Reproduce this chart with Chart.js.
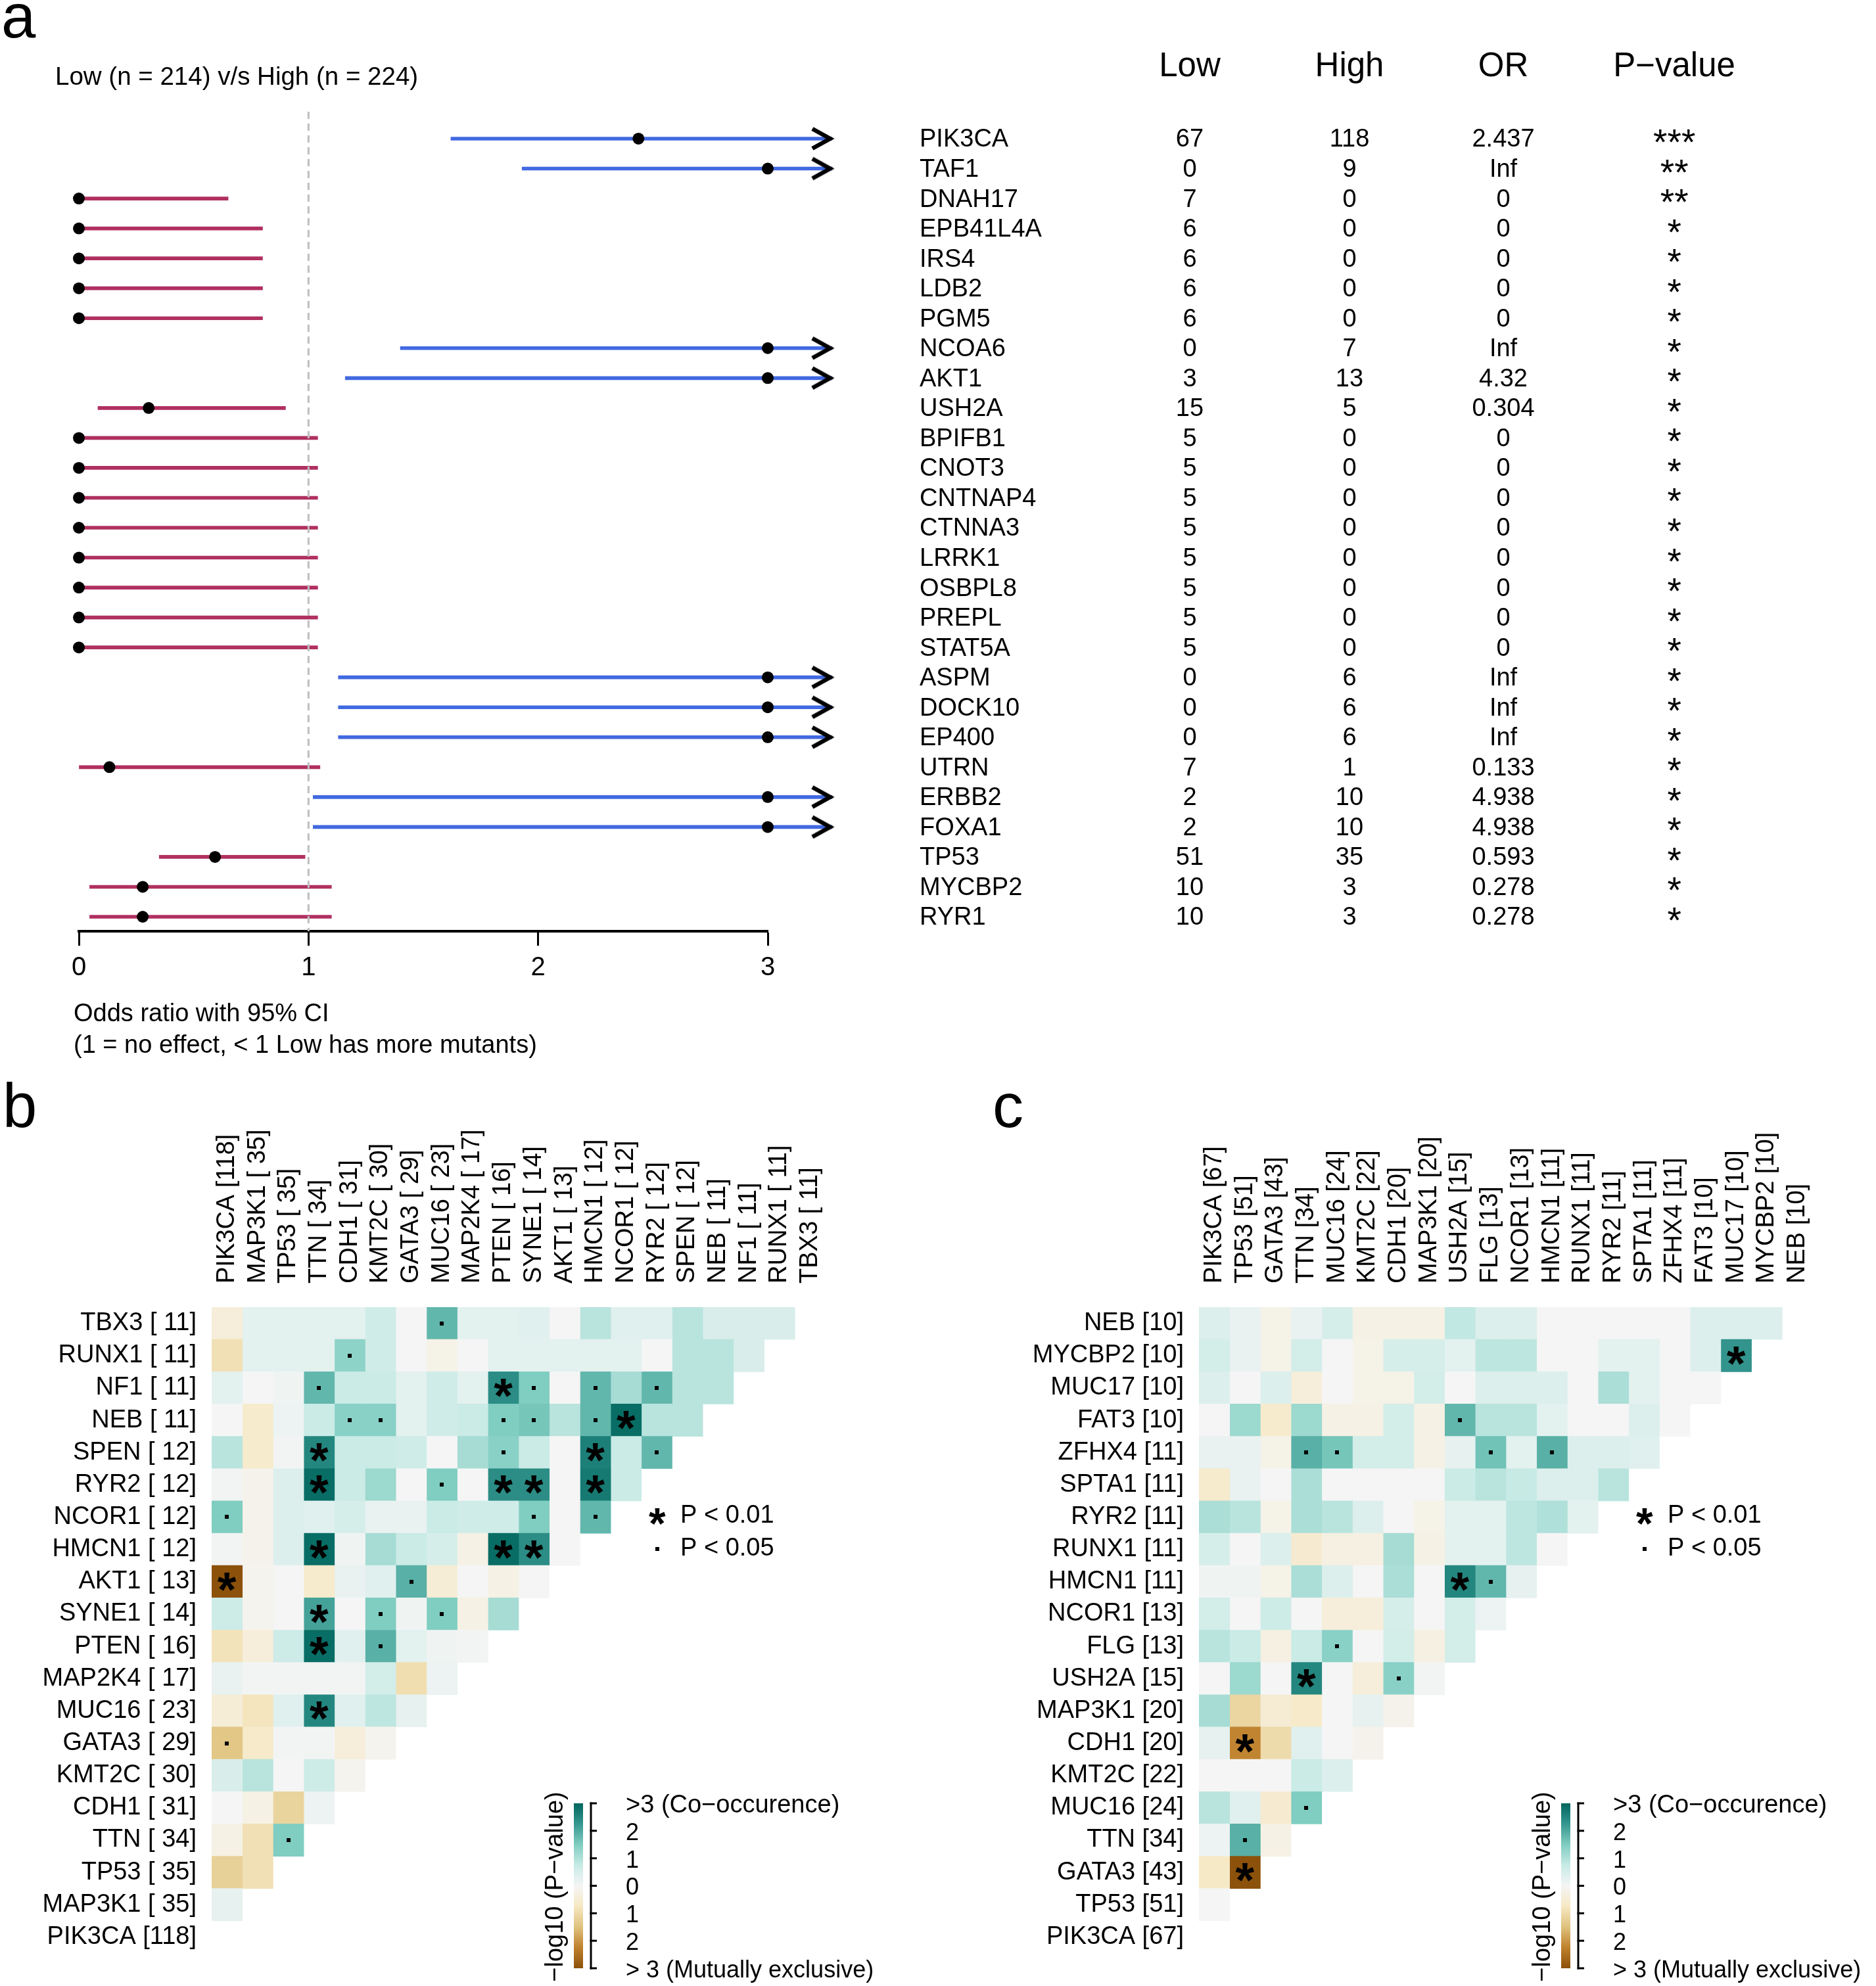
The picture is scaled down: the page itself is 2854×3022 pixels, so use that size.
<!DOCTYPE html>
<html>
<head>
<meta charset="utf-8">
<script src="https://cdn.jsdelivr.net/npm/chart.js@4.4.0/dist/chart.umd.min.js"></script>
<style>
html,body{margin:0;padding:0;background:#fff;}
body{width:2854px;height:3022px;position:relative;overflow:hidden;font-family:'Liberation Sans',Arial,Helvetica,sans-serif;}
.box{position:absolute;}
.letter{position:absolute;font-size:94px;line-height:94px;color:#000;}
</style>
</head>
<body>
<div class="letter" style="left:2px;top:-22px">a</div>
<div class="letter" style="left:4px;top:1636px">b</div>
<div class="letter" style="left:1510px;top:1636px">c</div>
<div class="box" style="left:0;top:0;width:2854px;height:1650px"><canvas id="forest"></canvas></div>
<div class="box" style="left:0;top:1700px;width:1427px;height:1322px"><canvas id="heatB"></canvas></div>
<div class="box" style="left:1500px;top:1700px;width:1354px;height:1322px"><canvas id="heatC"></canvas></div>
<script>
const FONT = "'Liberation Sans', Arial, Helvetica, sans-serif";
Chart.defaults.font.family = FONT;
Chart.defaults.color = '#000';
Chart.defaults.animation = false;

// ---------------- Panel a data ----------------
const forestGenes = ['PIK3CA','TAF1','DNAH17','EPB41L4A','IRS4','LDB2','PGM5','NCOA6','AKT1','USH2A','BPIFB1','CNOT3','CNTNAP4','CTNNA3','LRRK1','OSBPL8','PREPL','STAT5A','ASPM','DOCK10','EP400','UTRN','ERBB2','FOXA1','TP53','MYCBP2','RYR1'];
const lowCounts  = [67,0,7,6,6,6,6,0,3,15,5,5,5,5,5,5,5,5,0,0,0,7,2,2,51,10,10];
const highCounts = [118,9,0,0,0,0,0,7,13,5,0,0,0,0,0,0,0,0,6,6,6,1,10,10,35,3,3];
const oddsRatio  = [2.437,Infinity,0,0,0,0,0,Infinity,4.32,0.304,0,0,0,0,0,0,0,0,Infinity,Infinity,Infinity,0.133,4.938,4.938,0.593,0.278,0.278];
const ciLower    = [1.62,1.93,0,0,0,0,0,1.40,1.16,0.083,0,0,0,0,0,0,0,0,1.13,1.13,1.13,0,1.02,1.02,0.35,0.047,0.047];
const ciUpper    = [Infinity,Infinity,0.65,0.80,0.80,0.80,0.80,Infinity,Infinity,0.90,1.04,1.04,1.04,1.04,1.04,1.04,1.04,1.04,Infinity,Infinity,Infinity,1.05,Infinity,Infinity,0.985,1.10,1.10];
const pSignif    = ['***','**','**','*','*','*','*','*','*','*','*','*','*','*','*','*','*','*','*','*','*','*','*','*','*','*','*'];
const tableHeaders = ['Low','High','OR','P\u2212value'];
const forestTitle = 'Low (n = 214) v/s High (n = 224)';
const forestAxisTitle = ['Odds ratio with 95% CI','(1 = no effect, < 1 Low has more mutants)'];
const forestTicks = [0,1,2,3];

// ---------------- Panel b data ----------------
const bGenes = ['PIK3CA [118]','MAP3K1 [ 35]','TP53 [ 35]','TTN [ 34]','CDH1 [ 31]','KMT2C [ 30]','GATA3 [ 29]','MUC16 [ 23]','MAP2K4 [ 17]','PTEN [ 16]','SYNE1 [ 14]','AKT1 [ 13]','HMCN1 [ 12]','NCOR1 [ 12]','RYR2 [ 12]','SPEN [ 12]','NEB [ 11]','NF1 [ 11]','RUNX1 [ 11]','TBX3 [ 11]'];
// signed -log10(P) per row (top row first), columns left to right
const bValues = [
  [-0.4,0.3,0.3,0.3,0.3,0.6,0.0,1.8,0.3,0.3,0.35,0.0,0.9,0.35,0.35,0.9,0.45,0.45,0.45],
  [-0.9,0.3,0.3,0.3,1.35,0.6,0.0,-0.2,0.0,0.3,0.3,0.3,0.3,0.3,0.0,0.9,0.9,0.45],
  [0.3,0.0,0.1,1.8,0.7,0.7,0.3,0.6,0.3,2.4,1.5,0.0,1.8,1.1,1.8,0.9,0.9],
  [0.0,-0.6,0.15,0.7,1.4,1.4,0.3,0.6,0.7,1.5,1.6,0.9,1.8,2.9,0.9,0.9],
  [0.9,-0.6,0.05,2.5,0.7,0.7,0.6,0.0,1.1,1.4,0.7,0.0,2.6,0.7,1.8],
  [0.05,-0.15,0.4,2.9,0.7,1.2,0.0,1.5,0.0,2.4,2.4,0.0,2.7,0.7],
  [1.5,-0.15,0.4,0.35,0.5,0.2,0.2,0.7,0.6,0.6,1.5,0.0,1.8],
  [0.05,-0.15,0.4,2.9,0.1,1.1,0.7,0.5,-0.25,2.9,2.4,0.0],
  [-3,-0.1,0.0,-0.6,0.2,0.35,1.9,-0.45,0.0,-0.25,0.0],
  [0.65,-0.1,0.0,2.1,0.0,1.5,0.1,1.5,-0.25,1.1],
  [-0.85,-0.4,0.65,2.9,0.35,1.9,0.3,0.1,0.05],
  [0.2,0.05,0.05,0.05,0.05,0.55,-0.95,0.15],
  [-0.45,-0.8,0.35,2.5,0.35,0.85,0.25],
  [-1.4,-0.65,0.05,0.05,-0.4,-0.1],
  [0.45,0.9,0.0,0.65,-0.1],
  [0.0,-0.25,-1.15,0.15],
  [-0.25,-0.9,1.5],
  [-1.2,-0.9],
  [0.25],
  []
];

// ---------------- Panel c data ----------------
const cGenes = ['PIK3CA [67]','TP53 [51]','GATA3 [43]','TTN [34]','MUC16 [24]','KMT2C [22]','CDH1 [20]','MAP3K1 [20]','USH2A [15]','FLG [13]','NCOR1 [13]','HMCN1 [11]','RUNX1 [11]','RYR2 [11]','SPTA1 [11]','ZFHX4 [11]','FAT3 [10]','MUC17 [10]','MYCBP2 [10]','NEB [10]'];
const cValues = [
  [0.4,0.2,-0.2,0.2,0.5,-0.25,-0.25,-0.25,0.8,0.4,0.4,0,0,0,0,0,0.4,0.4,0.4],
  [0.55,0.2,-0.2,0.55,0,-0.2,0.5,0.5,0.3,0.85,0.85,0,0,0.3,0.3,0,0.4,2.3],
  [0.4,0,0.4,-0.4,0,-0.2,-0.2,0.55,0,0.4,0.4,0.4,0,1.05,0.3,0,0],
  [0,1.2,-0.6,1.2,-0.25,-0.25,0.55,-0.25,1.8,0.9,0.9,0.3,0,0,0.4,0],
  [0.2,0.2,-0.2,1.9,1.6,0.55,0.55,-0.25,0.25,1.65,0.3,1.9,0.4,0.4,0.35],
  [-0.6,0.2,0,1.05,0,0,0,0,0.7,0.9,0.75,0.4,0.4,0.9],
  [1.05,0.9,-0.2,1.05,0.9,0.4,0,-0.2,0.3,0.3,0.85,1.0,0.3],
  [0.5,0,0.4,-0.55,-0.3,-0.3,1.1,-0.25,0.3,0.3,0.85,0],
  [0.1,0.1,-0.2,1.05,0.4,0,1.05,0,2.5,1.8,0.25],
  [0.55,0,0.65,0,-0.4,-0.4,0.5,0,0.55,0.15],
  [0.9,0.7,-0.3,0.7,1.4,0,0.55,-0.3,0.55],
  [0,1.2,0,2.5,0,-0.4,1.4,0.05],
  [1.1,-1.1,-0.5,-0.65,0,0.25,-0.15],
  [0.25,-2.2,-1.0,0.35,0,-0.15],
  [0,0,0,0.7,0.4],
  [0.9,0.35,-0.55,1.5],
  [0.15,1.9,-0.25],
  [-0.7,-3],
  [0],
  []
];

const sigLabels = ['P < 0.01','P < 0.05'];
const colorbarLabels = ['>3 (Co\u2212occurence)','2','1','0','1','2','> 3 (Mutually exclusive)'];
const colorbarTitle = '\u2212log10 (P\u2212value)';

// ---------------- helpers ----------------
const BRBG_HEX = ['#8c510a','#bf812d','#dfc27d','#f6e8c3','#f5f5f5','#c7eae5','#80cdc1','#35978f','#01665e'];
const BRBG = BRBG_HEX.map(h => [parseInt(h.slice(1,3),16), parseInt(h.slice(3,5),16), parseInt(h.slice(5,7),16)]);
function brbg(v){
  const t = (Math.max(-3, Math.min(3, v)) + 3) / 6 * (BRBG.length - 1);
  const i = Math.min(BRBG.length - 2, Math.floor(t));
  const f = t - i, a = BRBG[i], b = BRBG[i+1];
  return 'rgb(' + [0,1,2].map(k => Math.round(a[k] + (b[k]-a[k])*f)).join(',') + ')';
}
function centerGlyph(ctx, text, cx, cy){
  ctx.textAlign = 'left'; ctx.textBaseline = 'alphabetic';
  const m = ctx.measureText(text);
  const w = m.actualBoundingBoxLeft + m.actualBoundingBoxRight;
  ctx.fillText(text, cx - w/2 + m.actualBoundingBoxLeft, cy + (m.actualBoundingBoxAscent - m.actualBoundingBoxDescent)/2);
}
function drawStar(ctx, cx, cy, h){
  ctx.save();
  ctx.fillStyle = '#000';
  ctx.font = 'bold 100px ' + FONT;
  const m = ctx.measureText('*');
  const s = 100 * h / (m.actualBoundingBoxAscent + m.actualBoundingBoxDescent);
  ctx.font = 'bold ' + s.toFixed(1) + 'px ' + FONT;
  centerGlyph(ctx, '*', cx, cy);
  ctx.restore();
}
function drawDot(ctx, cx, cy){
  ctx.fillStyle = '#000';
  ctx.fillRect(Math.round(cx - 3), Math.round(cy - 3), 6, 6);
}

// ---------------- Panel a: forest plot ----------------
const ARROW_END = 3.28;
const Y_MIN = -0.9, Y_MAX = 26.483;
function makeChevron(){
  const c = document.createElement('canvas');
  c.width = 74; c.height = 44;
  const x = c.getContext('2d');
  x.strokeStyle = '#000'; x.lineWidth = 6.5; x.lineJoin = 'miter'; x.lineCap = 'butt';
  x.beginPath(); x.moveTo(7, 7); x.lineTo(34, 22); x.lineTo(7, 37); x.stroke();
  return c;
}
const ciData = forestGenes.map((g,i) => ({y: i, x: [ciLower[i], Math.min(ciUpper[i], ARROW_END)]}));
const ciColors = oddsRatio.map(v => v > 1 ? '#4169E1' : '#B03060');
const pointData = forestGenes.map((g,i) => ({x: Math.min(oddsRatio[i], 3), y: i}));
const arrowData = forestGenes.map((g,i) => ciUpper[i] > 3 ? {x: ARROW_END, y: i} : null).filter(d => d);
const orText = oddsRatio.map(v => isFinite(v) ? String(v) : 'Inf');

const forestTable = {
  id: 'forestTable',
  afterDraw(chart){
    const ctx = chart.ctx, ys = chart.scales.y;
    ctx.save();
    ctx.fillStyle = '#000';
    ctx.textBaseline = 'middle';
    ctx.font = '51px ' + FONT;
    ctx.textAlign = 'center';
    const colX = [1810, 2053, 2287, 2547];
    tableHeaders.forEach((h,k) => ctx.fillText(h, colX[k], 102));
    ctx.font = '38.5px ' + FONT;
    ctx.textAlign = 'left';
    ctx.fillText(forestTitle, 84, 118);
    forestGenes.forEach((g,i) => {
      const py = ys.getPixelForValue(i) + 2;
      ctx.font = '38px ' + FONT;
      ctx.textBaseline = 'middle';
      ctx.textAlign = 'left';
      ctx.fillText(g, 1399, py);
      ctx.textAlign = 'center';
      ctx.fillText(String(lowCounts[i]), colX[0], py);
      ctx.fillText(String(highCounts[i]), colX[1], py);
      ctx.fillText(orText[i], colX[2], py);
      ctx.font = '55px ' + FONT;
      centerGlyph(ctx, pSignif[i], colX[3], py - 6);
    });
    ctx.font = '38px ' + FONT;
    ctx.textAlign = 'left';
    ctx.textBaseline = 'middle';
    ctx.fillText(forestAxisTitle[0], 112, 1544);
    ctx.fillText(forestAxisTitle[1], 112, 1592);
    ctx.restore();
  }
};

new Chart(document.getElementById('forest'), {
  type: 'bar',
  data: {
    datasets: [
      {type: 'scatter', data: pointData, pointRadius: 9, pointBackgroundColor: '#000', pointBorderWidth: 0, clip: false, order: 0},
      {type: 'line', data: [{x: 1, y: Y_MIN}, {x: 1, y: Y_MAX}], borderColor: '#bebebe', borderWidth: 3, borderDash: [11, 7], pointRadius: 0, order: 1},
      {type: 'scatter', data: arrowData, pointStyle: makeChevron(), pointRadius: 130, pointBorderWidth: 0, clip: false, order: 2},
      {type: 'bar', data: ciData, backgroundColor: ciColors, barThickness: 5, borderWidth: 0, clip: false, order: 3}
    ]
  },
  options: {
    indexAxis: 'y',
    responsive: true,
    maintainAspectRatio: false,
    animation: false,
    events: [],
    layout: {autoPadding: false, padding: {left: 120, right: 1686, top: 170, bottom: 123}},
    scales: {
      x: {
        type: 'linear', position: 'bottom', min: 0, max: 3,
        afterBuildTicks: s => { s.ticks = forestTicks.map(v => ({value: v})); },
        afterFit: s => { s.height = 110; },
        grid: {drawOnChartArea: false, drawTicks: true, tickLength: 22, tickWidth: 3, tickColor: '#000'},
        border: {display: true, color: '#000', width: 4},
        ticks: {font: {size: 40}, color: '#000', padding: 10, maxRotation: 0}
      },
      y: {type: 'linear', reverse: true, min: Y_MIN, max: Y_MAX, offset: false, display: false}
    },
    plugins: {legend: {display: false}, tooltip: {enabled: false}}
  },
  plugins: [forestTable]
});

// ---------------- Panels b, c: heatmaps ----------------
function heatmap(canvasId, genes, values, axisWidth, padRight){
  const rowLabels = genes.slice().reverse();
  const nCells = values[0].length;
  const datasets = [];
  for (let c = 0; c < nCells; c++) {
    datasets.push({
      data: values.map(row => c < row.length ? [c - 0.5, c + 0.5] : null),
      backgroundColor: values.map(row => c < row.length ? brbg(row[c]) : 'rgba(0,0,0,0)'),
      borderWidth: 0, barPercentage: 1, categoryPercentage: 1, grouped: false
    });
  }
  const decor = {
    id: 'decor_' + canvasId,
    afterDatasetsDraw(chart){
      const ctx = chart.ctx, xs = chart.scales.x, ys = chart.scales.y, ca = chart.chartArea;
      ctx.save();
      values.forEach((row, r) => row.forEach((v, c) => {
        const cx = xs.getPixelForValue(c), cy = ys.getPixelForValue(r);
        if (Math.abs(v) > 2) drawStar(ctx, cx, cy, 28);
        else if (Math.abs(v) > 1.3) drawDot(ctx, cx, cy);
      }));
      // significance legend
      const lx = ca.left + 678, ly1 = ca.top + 318, ly2 = ca.top + 368;
      drawStar(ctx, lx, ly1, 25);
      drawDot(ctx, lx, ly2);
      ctx.fillStyle = '#000';
      ctx.font = '38px ' + FONT;
      ctx.textAlign = 'left'; ctx.textBaseline = 'middle';
      ctx.fillText(sigLabels[0], ca.left + 713, ly1);
      ctx.fillText(sigLabels[1], ca.left + 713, ly2);
      // colour bar
      const bx = ca.left + 551, bw = 14, bt = ca.top + 755, bb = ca.top + 1006;
      const g = ctx.createLinearGradient(0, bt, 0, bb);
      const rev = BRBG_HEX.slice().reverse();
      rev.forEach((col, k) => g.addColorStop(k / (rev.length - 1), col));
      ctx.fillStyle = g;
      ctx.fillRect(bx, bt, bw, bb - bt);
      const ax = ca.left + 577;
      ctx.strokeStyle = '#000'; ctx.lineWidth = 3;
      ctx.beginPath(); ctx.moveTo(ax, bt - 1.5); ctx.lineTo(ax, bb + 1.5); ctx.stroke();
      ctx.fillStyle = '#000';
      ctx.textAlign = 'left'; ctx.textBaseline = 'middle';
      colorbarLabels.forEach((lab, k) => {
        const ty = bt + (bb - bt) * k / (colorbarLabels.length - 1);
        ctx.beginPath(); ctx.moveTo(ax - 1.5, ty); ctx.lineTo(ax + 9, ty); ctx.stroke();
        ctx.font = (k === 0 ? '38px ' : '36px ') + FONT;
        ctx.fillText(lab, ca.left + 630, ty + 4);
      });
      ctx.save();
      ctx.translate(ca.left + 524, ca.top + 882);
      ctx.rotate(-Math.PI / 2);
      ctx.font = '38px ' + FONT;
      ctx.textAlign = 'center'; ctx.textBaseline = 'middle';
      ctx.fillText(colorbarTitle, 0, 0);
      ctx.restore();
      ctx.restore();
    }
  };
  return new Chart(document.getElementById(canvasId), {
    type: 'bar',
    data: {labels: rowLabels, datasets},
    options: {
      indexAxis: 'y',
      responsive: true,
      maintainAspectRatio: false,
      animation: false,
      events: [],
      layout: {autoPadding: false, padding: {left: 0, top: 0, right: padRight, bottom: 50}},
      scales: {
        y: {
          type: 'category', position: 'left', offset: true,
          grid: {display: false, drawTicks: false, tickLength: 0},
          border: {display: false},
          ticks: {font: {size: 38}, color: '#000', padding: 23, autoSkip: false},
          afterFit: s => { s.width = axisWidth; }
        },
        x: {
          type: 'linear', position: 'top', min: -0.5, max: genes.length - 0.5,
          grid: {display: false, drawTicks: false, tickLength: 0},
          border: {display: false},
          afterBuildTicks: s => { s.ticks = genes.map((g, i) => ({value: i})); },
          ticks: {font: {size: 38}, color: '#000', padding: 36, autoSkip: false, minRotation: 90, maxRotation: 90,
                  labelOffset: 45.6, callback: v => genes[v]},
          afterFit: s => { s.height = 289; }
        }
      },
      plugins: {legend: {display: false}, tooltip: {enabled: false}}
    },
    plugins: [decor]
  });
}

// chart area: 20 columns x 46.7 px = 934 px wide, 20 rows x 49.15 px = 983 px high
heatmap('heatB', bGenes, bValues, 322, 171);
heatmap('heatC', cGenes, cValues, 324, 96);
</script>
</body>
</html>
